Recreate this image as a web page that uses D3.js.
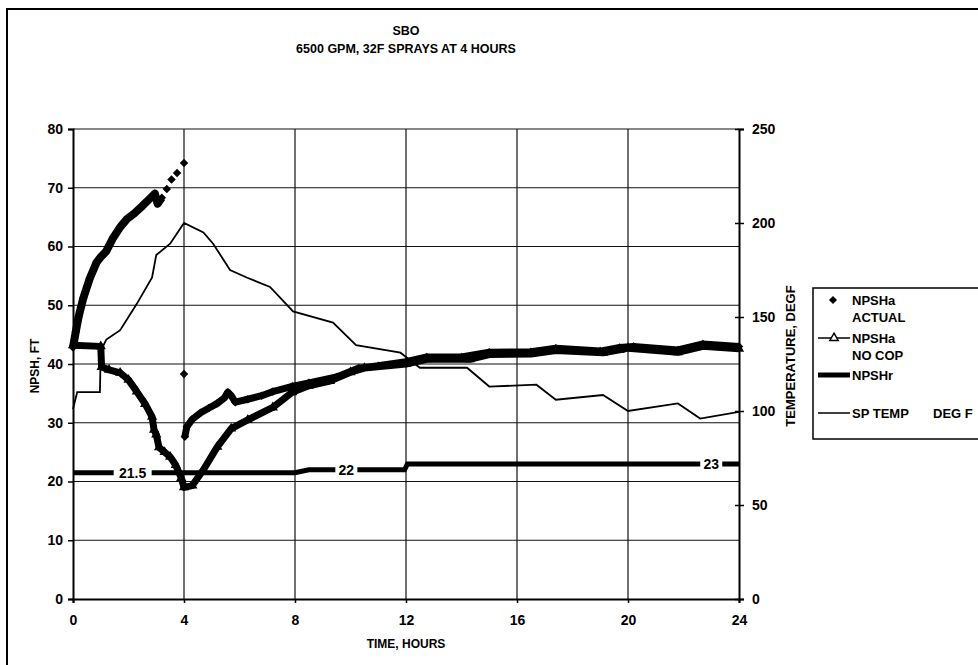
<!DOCTYPE html>
<html>
<head>
<meta charset="utf-8">
<script src="https://cdn.jsdelivr.net/npm/d3@7"></script>
<style>
body { margin: 0; background: #fff; }
svg text { font-family: Arial, "Liberation Sans", sans-serif; font-weight: bold; fill: #000; }
</style>
</head>
<body>
<div id="vis"></div>
<script>
var w = 978;
var h = 665;

// time axis (hours) and tick labels
var timeTicks = [0, 4, 8, 12, 16, 20, 24];
var npshTicks = [0, 10, 20, 30, 40, 50, 60, 70, 80];
var tempTicks = [0, 50, 100, 150, 200, 250];

// NPSHa ACTUAL - dense diamonds before 4 hours
var actualTime = [0, 0.1, 0.2, 0.37, 0.6, 0.85, 1.0, 1.2, 1.45, 1.7, 1.95, 2.2, 2.5, 2.8, 2.95, 3.05, 3.2];
var actualVal = [42.8, 45.5, 48, 51.2, 54.5, 57.3, 58.2, 59.2, 61.5, 63.3, 64.7, 65.6, 66.9, 68.3, 69.0, 67.3, 68.3];
// NPSHa ACTUAL - single diamonds near 4 hours
var actualDotTime = [3.38, 3.55, 3.75, 4.0, 4.0];
var actualDotVal = [69.8, 71.4, 72.5, 74.2, 38.3];
// NPSHa ACTUAL - after sprays start
var actualLateTime = [4.03, 4.1, 4.3, 4.6, 4.9, 5.2, 5.45, 5.58, 5.7, 5.85, 6.3, 6.8, 7.2, 7.9, 8.5, 9.5, 10.3, 11, 12, 12.75, 14, 15, 16.5, 17.4, 19, 19.7, 20.2, 21.8, 22.7, 24];
var actualLateVal = [27.6, 29.3, 30.6, 31.7, 32.5, 33.3, 34.2, 35.2, 34.6, 33.5, 34.0, 34.6, 35.3, 36.2, 36.8, 37.8, 39.3, 39.7, 40.4, 41.2, 41.2, 42.0, 42.1, 42.7, 42.2, 42.8, 43.0, 42.4, 43.4, 43.0];

// NPSHa NO COP
var nocopTime = [0, 1.0, 1.03, 1.3, 1.7, 2.0, 2.3, 2.6, 2.85, 2.92, 3.0, 3.1, 3.3, 3.5, 3.7, 3.9, 4.0, 4.3, 4.7, 5.2, 5.7, 6.3, 7.2, 7.9, 8.5, 9.26, 10.0, 10.5, 12.0, 12.75, 14.3, 15.0, 16.5, 17.4, 19.1, 19.7, 20.0, 21.8, 22.7, 24];
var nocopVal = [43.2, 43.0, 39.5, 39.0, 38.5, 37.3, 35.3, 33.2, 31.0, 28.8, 28.0, 25.8, 25.0, 24.2, 22.8, 20.6, 19.0, 19.3, 22.0, 25.9, 29.0, 30.5, 32.6, 35.2, 36.3, 37.1, 38.6, 39.3, 40.0, 40.8, 40.8, 41.6, 41.7, 42.3, 41.9, 42.4, 42.7, 42.0, 43.0, 42.6];

// NPSHr with its data labels
var reqTime = [0, 2.15, 8, 8.5, 9.85, 11.95, 12.05, 23, 24];
var reqVal = [21.5, 21.5, 21.5, 22, 22, 22, 23, 23, 23];
var reqLabels = ["", "21.5", "", "", "22", "", "", "23", ""];

// SP TEMP, deg F
var tempTime = [0, 0.15, 0.97, 1.0, 1.2, 1.7, 2.3, 2.85, 3.0, 3.5, 4.0, 4.7, 5.05, 5.66, 6.26, 7.1, 7.93, 9.37, 10.2, 11.8, 12.5, 14.2, 15.0, 16.7, 17.4, 19.1, 20.0, 21.8, 22.6, 24];
var tempVal = [101, 110, 110, 132, 138, 143, 157, 171, 183, 189, 200, 195, 189, 175, 171, 166, 153, 147, 135, 131, 123, 123, 113, 114, 106, 108.5, 100, 104, 96, 99.5];

var svg = d3.select("#vis")
    .append("svg")
    .attr("width", w)
    .attr("height", h);

var x = d3.scaleLinear().domain([0, 24]).range([73, 739]);
var yL = d3.scaleLinear().domain([0, 80]).range([599, 129]);
var yR = d3.scaleLinear().domain([0, 250]).range([599, 129]);

function pts(t, v) {
	return t.map(function(d, i) { return [d, v[i]]; });
}

// chart frame
svg.append("rect")
	.attr("x", 7)
	.attr("y", 9)
	.attr("width", 1000)
	.attr("height", 700)
	.attr("fill", "none")
	.attr("stroke", "#000")
	.attr("stroke-width", 2);

// titles
svg.append("text")
	.text("SBO")
	.attr("x", 406)
	.attr("y", 35)
	.attr("text-anchor", "middle")
	.style("font-size", "12.5px");
svg.append("text")
	.text("6500 GPM, 32F SPRAYS AT 4 HOURS")
	.attr("x", 406)
	.attr("y", 53)
	.attr("text-anchor", "middle")
	.style("font-size", "12.5px");

// gridlines
svg.selectAll(".hgrid")
	.data(npshTicks.slice(1))
	.enter()
	.append("line")
	.attr("class", "hgrid")
	.attr("x1", x(0))
	.attr("x2", x(24))
	.attr("y1", function(d) { return yL(d); })
	.attr("y2", function(d) { return yL(d); })
	.attr("stroke", "#111")
	.attr("stroke-width", 1.2);
svg.selectAll(".vgrid")
	.data(timeTicks.slice(1, -1))
	.enter()
	.append("line")
	.attr("class", "vgrid")
	.attr("x1", function(d) { return x(d); })
	.attr("x2", function(d) { return x(d); })
	.attr("y1", yL(80))
	.attr("y2", yL(0))
	.attr("stroke", "#111")
	.attr("stroke-width", 1.2);

// axes
var axL = svg.append("g")
	.attr("transform", "translate(" + x(0) + ",0)")
	.call(d3.axisLeft(yL).tickValues(npshTicks).tickSize(5).tickPadding(5));
var axR = svg.append("g")
	.attr("transform", "translate(" + x(24) + ",0)")
	.call(d3.axisRight(yR).tickValues(tempTicks).tickSize(5).tickPadding(8));
var axB = svg.append("g")
	.attr("transform", "translate(0," + yL(0) + ")")
	.call(d3.axisBottom(x).tickValues(timeTicks).tickSize(4).tickPadding(12));

[axL, axR, axB].forEach(function(a) {
	a.select(".domain").attr("stroke", "#000").attr("stroke-width", 2);
	a.selectAll(".tick line").attr("stroke", "#000").attr("stroke-width", 1.5);
	a.selectAll("text").style("font-size", "14px").attr("font-family", null);
});
// cross ticks on the right axis
axR.selectAll(".tick").append("line")
	.attr("x1", -4)
	.attr("x2", 0)
	.attr("stroke", "#000")
	.attr("stroke-width", 1.5);

// axis titles
svg.append("text")
	.text("TIME, HOURS")
	.attr("x", 406)
	.attr("y", 648)
	.attr("text-anchor", "middle")
	.style("font-size", "12px");
svg.append("text")
	.text("NPSH, FT")
	.attr("transform", "translate(39,366) rotate(-90)")
	.attr("text-anchor", "middle")
	.style("font-size", "12px");
svg.append("text")
	.text("TEMPERATURE, DEGF")
	.attr("transform", "translate(795,356) rotate(-90)")
	.attr("text-anchor", "middle")
	.style("font-size", "13px");

var lineL = d3.line().x(function(d) { return x(d[0]); }).y(function(d) { return yL(d[1]); });
var lineR = d3.line().x(function(d) { return x(d[0]); }).y(function(d) { return yR(d[1]); });

// SP TEMP
svg.append("path")
	.attr("d", lineR(pts(tempTime, tempVal)))
	.attr("fill", "none")
	.attr("stroke", "#000")
	.attr("stroke-width", 1.8);

// NPSHr
svg.append("path")
	.attr("d", lineL(pts(reqTime, reqVal)))
	.attr("fill", "none")
	.attr("stroke", "#000")
	.attr("stroke-width", 5);
var reqLab = svg.selectAll(".reqlab")
	.data(pts(reqTime, reqVal).map(function(d, i) { return {t: d[0], v: d[1], s: reqLabels[i]}; })
		.filter(function(d) { return d.s != ""; }))
	.enter()
	.append("g")
	.attr("class", "reqlab")
	.attr("transform", function(d) { return "translate(" + x(d.t) + "," + yL(d.v) + ")"; });
reqLab.append("rect")
	.attr("x", function(d) { return -d.s.length * 4 - 3; })
	.attr("y", -7)
	.attr("width", function(d) { return d.s.length * 8 + 6; })
	.attr("height", 14)
	.attr("fill", "#fff");
reqLab.append("text")
	.text(function(d) { return d.s; })
	.attr("y", 5)
	.attr("text-anchor", "middle")
	.style("font-size", "14px");

// NPSHa NO COP (dense triangles)
svg.append("path")
	.attr("d", lineL(pts(nocopTime, nocopVal)))
	.attr("fill", "none")
	.attr("stroke", "#000")
	.attr("stroke-width", 7)
	.attr("stroke-linejoin", "round");
svg.selectAll(".tri")
	.data(pts(nocopTime, nocopVal))
	.enter()
	.append("path")
	.attr("class", "tri")
	.attr("d", d3.symbol().type(d3.symbolTriangle).size(45))
	.attr("transform", function(d) { return "translate(" + x(d[0]) + "," + yL(d[1]) + ")"; })
	.attr("fill", "#000");

// NPSHa ACTUAL (dense diamonds)
svg.append("path")
	.attr("d", lineL(pts(actualTime, actualVal)))
	.attr("fill", "none")
	.attr("stroke", "#000")
	.attr("stroke-width", 8)
	.attr("stroke-linejoin", "round");
svg.append("path")
	.attr("d", lineL(pts(actualLateTime, actualLateVal)))
	.attr("fill", "none")
	.attr("stroke", "#000")
	.attr("stroke-width", 7)
	.attr("stroke-linejoin", "round");
var allActual = pts(actualTime, actualVal)
	.concat(pts(actualDotTime, actualDotVal))
	.concat(pts(actualLateTime, actualLateVal));
svg.selectAll(".dia")
	.data(allActual)
	.enter()
	.append("path")
	.attr("class", "dia")
	.attr("d", d3.symbol().type(d3.symbolSquare).size(36))
	.attr("transform", function(d) { return "translate(" + x(d[0]) + "," + yL(d[1]) + ") rotate(45)"; })
	.attr("fill", "#000");

// legend
svg.append("rect")
	.attr("x", 813)
	.attr("y", 288)
	.attr("width", 200)
	.attr("height", 151)
	.attr("fill", "#fff")
	.attr("stroke", "#000")
	.attr("stroke-width", 1.5);

svg.append("path")
	.attr("d", d3.symbol().type(d3.symbolSquare).size(32))
	.attr("transform", "translate(833,300) rotate(45)")
	.attr("fill", "#000");
svg.append("line").attr("x1", 818).attr("x2", 850).attr("y1", 338).attr("y2", 338)
	.attr("stroke", "#000").attr("stroke-width", 1.5);
svg.append("path")
	.attr("d", d3.symbol().type(d3.symbolTriangle).size(30))
	.attr("transform", "translate(834,338)")
	.attr("fill", "#fff")
	.attr("stroke", "#000")
	.attr("stroke-width", 1.5);
svg.append("line").attr("x1", 818).attr("x2", 850).attr("y1", 375).attr("y2", 375)
	.attr("stroke", "#000").attr("stroke-width", 5);
svg.append("line").attr("x1", 818).attr("x2", 850).attr("y1", 413).attr("y2", 413)
	.attr("stroke", "#000").attr("stroke-width", 1.5);

var legText = [["NPSHa", 852, 305], ["ACTUAL", 852, 322], ["NPSHa", 852, 343], ["NO COP", 852, 360],
	["NPSHr", 852, 380], ["SP TEMP", 852, 418], ["DEG F", 933, 418]];
svg.selectAll(".legtext")
	.data(legText)
	.enter()
	.append("text")
	.attr("class", "legtext")
	.text(function(d) { return d[0]; })
	.attr("x", function(d) { return d[1]; })
	.attr("y", function(d) { return d[2]; })
	.style("font-size", "13px");
</script>
</body>
</html>
